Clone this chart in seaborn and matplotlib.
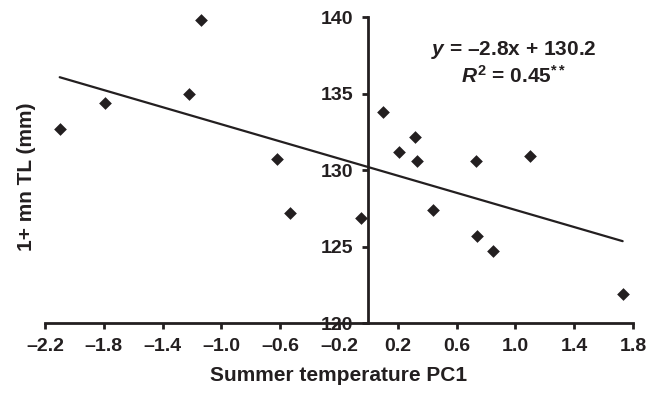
import numpy as np
import pandas as pd
import matplotlib
matplotlib.use("Agg")
import matplotlib.pyplot as plt
import seaborn as sns

# ==================================================
# DATA
# ==================================================

pc1 = [-2.10, -1.79, -1.22, -1.14, -0.62, -0.53, -0.05, 0.10, 0.21,
       0.32, 0.33, 0.44, 0.73, 0.74, 0.85, 1.10, 1.73]
mean_tl = [132.7, 134.4, 135.0, 139.8, 130.7, 127.2, 126.9, 133.8, 131.2,
           132.2, 130.6, 127.4, 130.6, 125.7, 124.7, 130.9, 121.9]

slope = -2.8
intercept = 130.2

x_ticks = [-2.2, -1.8, -1.4, -1.0, -0.6, -0.2, 0.2, 0.6, 1.0, 1.4, 1.8]
x_tick_labels = ["–2.2", "–1.8", "–1.4", "–1.0", "–0.6", "–0.2",
                 "0.2", "0.6", "1.0", "1.4", "1.8"]
y_ticks = [120, 125, 130, 135, 140]

df = pd.DataFrame({"pc1": pc1, "tl": mean_tl})

fit_x = [min(pc1), max(pc1)]
fit_df = pd.DataFrame({"pc1": fit_x,
                       "tl": [slope * v + intercept for v in fit_x]})

# ==================================================
# STYLE
# ==================================================

sns.set_style("ticks")
ink = "#231f20"
plt.rcParams["font.family"] = ["Liberation Sans", "DejaVu Sans"]
plt.rcParams["font.weight"] = "bold"
plt.rcParams["mathtext.fontset"] = "custom"
plt.rcParams["mathtext.rm"] = "Liberation Sans:bold"
plt.rcParams["mathtext.it"] = "Liberation Sans:italic:bold"
plt.rcParams["mathtext.bf"] = "Liberation Sans:bold"

fig, ax = plt.subplots(figsize=(6.6, 3.93), dpi=100)
fig.subplots_adjust(left=0.0682, right=0.959, bottom=0.178, top=0.956)

# ==================================================
# PLOT
# ==================================================

sns.lineplot(data=fit_df, x="pc1", y="tl", color=ink, linewidth=1.6, ax=ax)

sns.scatterplot(data=df, x="pc1", y="tl", marker="D", s=42,
                color=ink, edgecolor=ink, linewidth=0, zorder=3,
                clip_on=False, ax=ax)

ax.set_xlim(-2.2, 1.8)
ax.set_ylim(120, 140)

ax.spines["top"].set_visible(False)
ax.spines["right"].set_visible(False)
ax.spines["left"].set_position(("data", 0))
for side in ["left", "bottom"]:
    ax.spines[side].set_linewidth(2.0)
    ax.spines[side].set_color(ink)

ax.set_xticks(x_ticks)
ax.set_xticklabels(x_tick_labels)
ax.set_yticks(y_ticks)
ax.tick_params(axis="both", direction="out", length=4, width=2,
               color=ink, labelcolor=ink, labelsize=14)
ax.tick_params(axis="x", pad=7)
ax.tick_params(axis="y", pad=7)

ax.set_xlabel("Summer temperature PC1", fontsize=15, fontweight="bold",
              color=ink, labelpad=8)
ax.set_ylabel("1+ mn TL (mm)", fontsize=15, fontweight="bold", color=ink)
ax.yaxis.set_label_coords(-0.015, 0.48)

ax.text(0.99, 137.86, "$y$ = –2.8x + 130.2", ha="center", va="center",
        fontsize=15, fontweight="bold", color=ink)
ax.text(0.99, 136.2, "$R^{2}$ = 0.45$^{**}$",
        ha="center", va="center", fontsize=15, fontweight="bold", color=ink)

plt.savefig("out.png", dpi=100)
